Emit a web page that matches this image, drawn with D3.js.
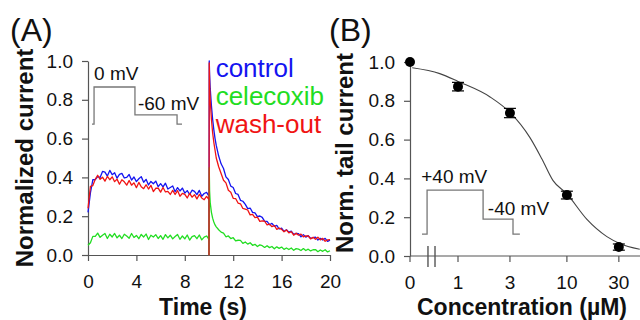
<!DOCTYPE html>
<html>
<head>
<meta charset="utf-8">
<script src="https://cdn.jsdelivr.net/npm/d3@7"></script>
<style>
  html, body { margin: 0; padding: 0; background: #fff; }
  svg { display: block; font-family: "Liberation Sans", Arial, sans-serif; }
</style>
</head>
<body>
<svg id="chart" width="640" height="320"></svg>
<script>
// ---------------- Panel A data ----------------
const pulseTime = [0,0.2,0.4,0.6,0.8,1.0,1.2,1.4,1.6,1.8,2.0,2.2,2.4,2.6,2.8,3.0,3.2,3.4,3.6,3.8,4.0,4.2,4.4,4.6,4.8,5.0,5.2,5.4,5.6,5.8,6.0,6.2,6.4,6.6,6.8,7.0,7.2,7.4,7.6,7.8,8.0,8.2,8.4,8.6,8.8,9.0,9.2,9.4,9.6,9.8,10.0];
const pulseControl = [0.22,0.32,0.388,0.389,0.404,0.40,0.431,0.427,0.407,0.436,0.414,0.424,0.396,0.416,0.421,0.397,0.40,0.415,0.386,0.402,0.378,0.393,0.404,0.375,0.39,0.361,0.379,0.367,0.381,0.352,0.368,0.351,0.37,0.34,0.348,0.356,0.326,0.347,0.33,0.345,0.319,0.332,0.312,0.334,0.328,0.311,0.333,0.303,0.317,0.323,0.303];
const pulseCelecoxib = [0.05,0.063,0.096,0.096,0.113,0.091,0.102,0.111,0.085,0.107,0.093,0.111,0.088,0.102,0.085,0.107,0.098,0.086,0.111,0.09,0.101,0.084,0.106,0.093,0.108,0.08,0.102,0.093,0.105,0.085,0.10,0.081,0.105,0.088,0.102,0.083,0.095,0.106,0.081,0.098,0.083,0.103,0.077,0.095,0.10,0.084,0.103,0.078,0.092,0.098,0.081];
const pulseWashout = [0.24,0.354,0.358,0.39,0.411,0.39,0.401,0.381,0.405,0.388,0.403,0.378,0.391,0.365,0.388,0.377,0.36,0.384,0.36,0.372,0.347,0.374,0.352,0.342,0.362,0.34,0.359,0.327,0.344,0.345,0.324,0.348,0.325,0.328,0.312,0.333,0.312,0.332,0.303,0.318,0.313,0.294,0.318,0.298,0.311,0.289,0.312,0.294,0.285,0.302,0.286];

const tailTime = [10.0,10.02,10.05,10.1,10.2,10.3,10.4,10.5,10.6,10.8,11.0,11.2,11.4,11.6,11.8,12.0,12.2,12.4,12.6,12.8,13.0,13.2,13.4,13.6,13.8,14.0,14.2,14.4,14.6,14.8,15.0,15.2,15.4,15.6,15.8,16.0,16.2,16.4,16.6,16.8,17.0,17.2,17.4,17.6,17.8,18.0,18.2,18.4,18.6,18.8,19.0,19.2,19.4,19.6,19.8,20.0];
const tailControl = [0,1.0,0.93,0.86,0.77,0.70,0.645,0.60,0.565,0.51,0.47,0.446,0.403,0.389,0.355,0.348,0.317,0.312,0.282,0.277,0.261,0.239,0.242,0.22,0.217,0.198,0.201,0.194,0.173,0.173,0.156,0.163,0.148,0.153,0.134,0.138,0.122,0.13,0.118,0.123,0.106,0.111,0.11,0.094,0.105,0.092,0.10,0.085,0.09,0.092,0.077,0.086,0.077,0.086,0.07,0.077];
const tailCelecoxib = [0,0.45,0.33,0.27,0.22,0.19,0.17,0.155,0.145,0.13,0.118,0.113,0.094,0.098,0.085,0.089,0.073,0.076,0.075,0.06,0.067,0.056,0.063,0.05,0.055,0.044,0.052,0.048,0.039,0.048,0.038,0.044,0.032,0.042,0.034,0.041,0.029,0.036,0.028,0.036,0.024,0.033,0.030,0.023,0.033,0.023,0.030,0.021,0.027,0.028,0.017,0.026,0.019,0.027,0.016,0.022];
const tailWashout = [0,0.99,0.88,0.80,0.70,0.63,0.58,0.54,0.50,0.455,0.42,0.385,0.372,0.334,0.324,0.292,0.291,0.268,0.264,0.24,0.237,0.232,0.207,0.21,0.193,0.195,0.173,0.176,0.174,0.155,0.159,0.146,0.152,0.132,0.139,0.132,0.12,0.129,0.114,0.12,0.102,0.112,0.102,0.108,0.093,0.099,0.098,0.083,0.091,0.081,0.092,0.078,0.086,0.071,0.078,0.079];

const seriesNames = ["control", "celecoxib", "wash-out"];
const seriesColors = ["#1414f0", "#22dd22", "#f01414"];
const timeTicks = [0, 4, 8, 12, 16, 20];
const currentTicks = [0, 0.2, 0.4, 0.6, 0.8, 1.0];

// voltage protocol inset for panel A (time s, normalized units of the panel)
const protoATime = [0.33, 0.5, 0.5, 3.88, 3.88, 7.36, 7.36, 7.77];
const protoALevel = [0.675, 0.675, 0.866, 0.866, 0.722, 0.722, 0.675, 0.675];
const protoALabels = ["0 mV", "-60 mV"];

// ---------------- Panel B data ----------------
const concLabels = ["0", "1", "3", "10", "30"];
const concValues = [0, 1, 3, 10, 30];
const tailMean = [1.0, 0.873, 0.737, 0.314, 0.046];
const tailErr = [0.0, 0.022, 0.024, 0.02, 0.016];
const fitConc = [0.38, 0.68, 1.0, 1.97, 3.0, 4.58, 5.9, 7.44, 10.0, 15.2, 23.3, 30.5, 46.7];
const fitValue = [0.97, 0.94, 0.90, 0.82, 0.74, 0.61, 0.50, 0.39, 0.32, 0.19, 0.10, 0.065, 0.035];
const tailTicks = [0, 0.2, 0.4, 0.6, 0.8, 1.0];
// voltage protocol inset for panel B (concentration axis units, normalized units)
const protoBConc = [0.467, 0.52, 0.52, 1.70, 1.70, 3.2, 3.2, 3.7];
const protoBLevel = [0.113, 0.113, 0.34, 0.34, 0.19, 0.19, 0.113, 0.113];
const protoBLabels = ["+40 mV", "-40 mV"];
const breakConc = [0.53, 0.615];

// ---------------- Drawing ----------------
const svg = d3.select("#chart");
const axisColor = "#555";
const textColor = "#111";
const tickFont = "19px";
const titleFont = "23px";
const titleY = 315;

function styleAxis(g) {
  g.selectAll(".domain").attr("stroke", axisColor).attr("stroke-width", 1.2);
  g.selectAll(".tick line").attr("stroke", axisColor).attr("stroke-width", 1.2);
  g.selectAll(".tick text").attr("fill", textColor).style("font-size", tickFont)
    .style("font-family", "'Liberation Sans', Arial, sans-serif");
}

// ---- Panel A ----
const xA = d3.scaleLinear().domain([0, 20]).range([88, 330]);
const yA = d3.scaleLinear().domain([0, 1]).range([255, 61]);

const gA = svg.append("g");
gA.append("g").attr("transform", `translate(0,${yA(0)})`)
  .call(d3.axisBottom(xA).tickValues(timeTicks).tickFormat(d3.format("d")).tickSize(6).tickSizeOuter(0).tickPadding(14))
  .call(styleAxis);
gA.append("g").attr("transform", `translate(${xA(0)},0)`)
  .call(d3.axisLeft(yA).tickValues(currentTicks).tickFormat(d3.format(".1f")).tickSize(6).tickSizeOuter(0).tickPadding(9))
  .call(styleAxis);

const lineA = d3.line().x(d => xA(d[0])).y(d => yA(d[1]));
const pulses = [pulseControl, pulseCelecoxib, pulseWashout];
const tails = [tailControl, tailCelecoxib, tailWashout];
[0, 1, 2].forEach(i => {
  const pts = pulseTime.map((t, j) => [t, pulses[i][j]])
    .concat(tailTime.map((t, j) => [t, tails[i][j]]));
  gA.append("path").datum(pts).attr("d", lineA)
    .attr("fill", "none").attr("stroke", seriesColors[i]).attr("stroke-width", 1.3)
    .attr("stroke-linejoin", "round");
});

// protocol A
gA.append("path").datum(protoATime.map((t, j) => [t, protoALevel[j]]))
  .attr("d", lineA).attr("fill", "none").attr("stroke", "#777").attr("stroke-width", 1.3);
gA.append("text").attr("x", xA(0.5)).attr("y", yA(0.90)).text(protoALabels[0])
  .attr("fill", textColor).style("font-size", "19px");
gA.append("text").attr("x", xA(4.13)).attr("y", yA(0.747)).text(protoALabels[1])
  .attr("fill", textColor).style("font-size", "19px");

// legend
const legendLevels = [0.917, 0.773, 0.629];
seriesNames.forEach((n, i) => {
  gA.append("text").attr("x", xA(10.55)).attr("y", yA(legendLevels[i])).text(n)
    .attr("fill", seriesColors[i]).style("font-size", "26px");
});

// titles A
svg.append("text").attr("x", 10).attr("y", 41).text("(A)").attr("fill", textColor).style("font-size", "32px");
svg.append("text").attr("x", 203).attr("y", titleY).attr("text-anchor", "middle").text("Time (s)")
  .attr("fill", textColor).style("font-size", titleFont).style("font-weight", "bold");
svg.append("text").attr("transform", `translate(33,${(yA(0) + yA(1)) / 2}) rotate(-90)`)
  .attr("text-anchor", "middle").text("Normalized current")
  .attr("fill", textColor).style("font-size", "24px").style("font-weight", "bold");

// ---- Panel B ----
const x0B = 410;
const xB = d3.scaleLog().domain([1, 50]).range([458, 643]);
const posB = c => c === 0 ? x0B : xB(c);
const yB = d3.scaleLinear().domain([0, 1]).range([256, 62]);

const gB = svg.append("g");
// x axis line and ticks
gB.append("line").attr("x1", x0B).attr("x2", 640).attr("y1", yB(0)).attr("y2", yB(0))
  .attr("stroke", axisColor).attr("stroke-width", 1.2);
concValues.forEach((c, i) => {
  gB.append("line").attr("x1", posB(c)).attr("x2", posB(c)).attr("y1", yB(0)).attr("y2", yB(0) + 6)
    .attr("stroke", axisColor).attr("stroke-width", 1.2);
  gB.append("text").attr("x", posB(c)).attr("y", yB(0) + 33).attr("text-anchor", "middle")
    .text(concLabels[i]).attr("fill", textColor).style("font-size", tickFont);
});
gB.append("g").attr("transform", `translate(${x0B},0)`)
  .call(d3.axisLeft(yB).tickValues(tailTicks).tickFormat(d3.format(".1f")).tickSize(6).tickSizeOuter(0).tickPadding(9))
  .call(styleAxis);

// axis break
breakConc.forEach(c => {
  gB.append("line").attr("x1", xB(c)).attr("x2", xB(c)).attr("y1", yB(0) - 10).attr("y2", yB(0) + 11)
    .attr("stroke", axisColor).attr("stroke-width", 1.4);
});

// fit curve
const fitLine = d3.line().x(d => xB(d[0])).y(d => yB(d[1])).curve(d3.curveMonotoneX);
gB.append("path").datum(fitConc.map((c, j) => [c, fitValue[j]]))
  .attr("d", fitLine).attr("fill", "none").attr("stroke", "#444").attr("stroke-width", 1.1);

// error bars + points
concValues.forEach((c, i) => {
  if (tailErr[i] > 0) {
    const x = posB(c);
    gB.append("line").attr("x1", x).attr("x2", x).attr("y1", yB(tailMean[i] - tailErr[i])).attr("y2", yB(tailMean[i] + tailErr[i]))
      .attr("stroke", "#000").attr("stroke-width", 1.2);
    [tailMean[i] - tailErr[i], tailMean[i] + tailErr[i]].forEach(v => {
      gB.append("line").attr("x1", x - 6).attr("x2", x + 6).attr("y1", yB(v)).attr("y2", yB(v))
        .attr("stroke", "#000").attr("stroke-width", 1.2);
    });
  }
  gB.append("circle").attr("cx", posB(c)).attr("cy", yB(tailMean[i])).attr("r", 5).attr("fill", "#000");
});

// protocol B
const protoLineB = d3.line().x(d => xB(d[0])).y(d => yB(d[1]));
gB.append("path").datum(protoBConc.map((c, j) => [c, protoBLevel[j]]))
  .attr("d", protoLineB).attr("fill", "none").attr("stroke", "#777").attr("stroke-width", 1.3);
gB.append("text").attr("x", xB(0.46)).attr("y", yB(0.376)).text(protoBLabels[0])
  .attr("fill", textColor).style("font-size", "19px");
gB.append("text").attr("x", xB(1.88)).attr("y", yB(0.21)).text(protoBLabels[1])
  .attr("fill", textColor).style("font-size", "19px");

// titles B
svg.append("text").attr("x", 329).attr("y", 41).text("(B)").attr("fill", textColor).style("font-size", "32px");
svg.append("text").attr("x", 522).attr("y", titleY).attr("text-anchor", "middle").text("Concentration (\u00b5M)")
  .attr("fill", textColor).style("font-size", titleFont).style("font-weight", "bold");
svg.append("text").attr("transform", `translate(353,${(yB(0) + yB(1)) / 2 - 6}) rotate(-90)`)
  .attr("text-anchor", "middle").text("Norm. tail current")
  .attr("fill", textColor).style("font-size", "24px").style("font-weight", "bold");
</script>
</body>
</html>
